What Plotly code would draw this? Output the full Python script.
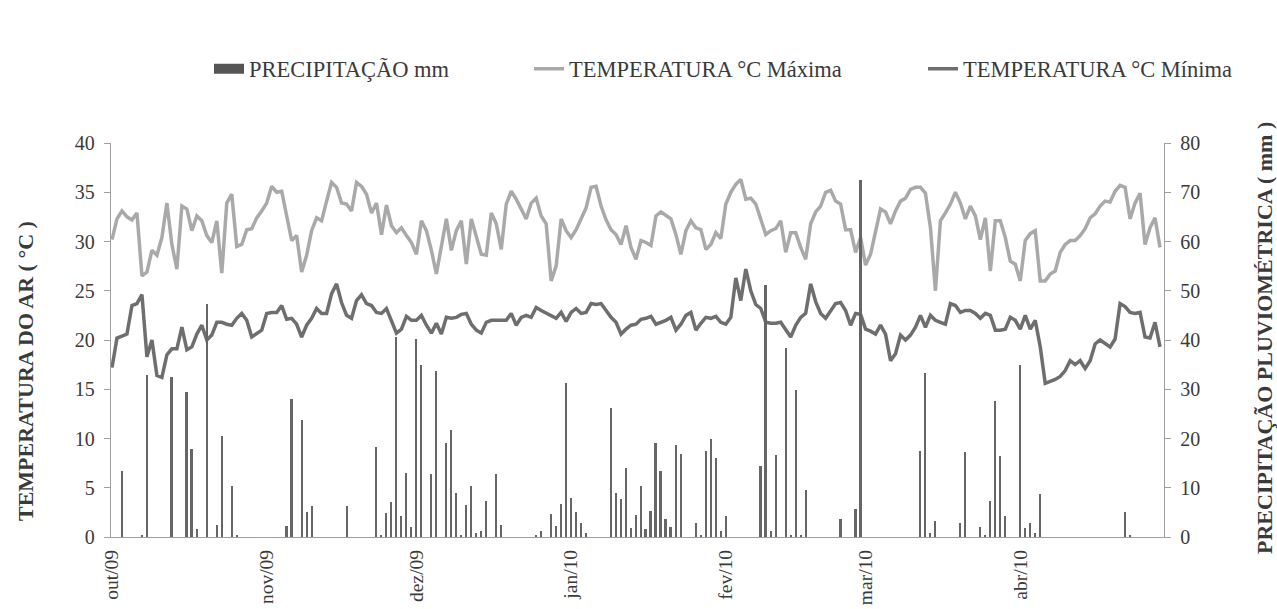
import pandas as pd
import plotly.graph_objects as go

# ---------------- data ----------------
start_date = "2009-10-01"

tmax = [30.2, 32.3, 33.1, 32.5, 32.2, 32.9, 26.5, 26.9, 29.1, 28.6,
        30.4, 33.9, 29.7, 27.2, 33.6, 33.3, 31.1, 32.6, 32.1, 30.6,
        29.9, 32.1, 26.8, 33.9, 34.8, 29.5, 29.7, 31.2, 31.3, 32.4,
        33.1, 33.9, 35.6, 35.0, 35.1, 32.4, 30.1, 30.6, 26.9, 28.6,
        31.1, 32.4, 32.1, 34.1, 36.0, 35.5, 33.9, 33.8, 33.1, 36.0,
        35.6, 34.8, 32.9, 33.9, 30.7, 33.7, 31.6, 30.9, 31.4, 30.6,
        29.9, 28.7, 32.1, 31.1, 29.1, 26.7, 29.4, 32.3, 29.1, 31.1,
        32.1, 27.7, 32.3, 30.4, 28.7, 28.6, 32.9, 31.8, 29.2, 33.8,
        35.1, 34.3, 33.3, 32.3, 33.9, 34.4, 32.6, 31.8, 26.0, 27.5,
        32.3, 31.1, 30.4, 31.2, 32.3, 33.4, 35.5, 35.6, 33.6, 32.2,
        31.2, 30.7, 29.7, 31.6, 29.4, 28.2, 30.1, 29.9, 29.6, 32.6,
        33.0, 32.7, 32.3, 30.7, 28.7, 31.1, 32.1, 31.4, 31.2, 29.2,
        29.7, 30.9, 30.3, 33.8, 35.0, 35.8, 36.3, 34.3, 34.4, 33.8,
        32.3, 30.7, 31.1, 31.3, 32.1, 28.9, 30.9, 30.9, 29.4, 28.2,
        31.8, 33.0, 33.6, 35.0, 35.2, 34.1, 33.8, 31.2, 31.2, 28.9,
        30.4, 27.6, 28.7, 31.2, 33.3, 33.0, 31.8, 33.1, 34.1, 34.4,
        35.3, 35.5, 35.5, 34.9, 31.4, 25.0, 32.1, 32.9, 33.8, 35.0,
        33.9, 32.3, 33.6, 32.6, 30.2, 32.4, 27.0, 32.1, 32.1, 30.4,
        28.0, 27.7, 26.0, 30.1, 30.8, 31.1, 26.0, 26.0, 26.7, 27.0,
        28.9, 29.7, 30.1, 30.1, 30.6, 31.3, 32.4, 32.8, 33.6, 34.1,
        34.0, 35.1, 35.7, 35.5, 32.3, 33.9, 34.9, 29.7, 31.4, 32.4,
        29.4]

tmin = [17.2, 20.2, 20.4, 20.6, 23.5, 23.7, 24.6, 18.3, 20.0, 16.4,
        16.2, 18.5, 19.1, 19.1, 21.3, 19.0, 19.3, 20.6, 21.5, 20.0,
        20.5, 21.8, 21.8, 21.6, 21.5, 22.2, 22.7, 22.0, 20.3, 20.6,
        21.0, 22.7, 22.8, 22.8, 23.5, 22.1, 22.2, 21.6, 20.3, 21.5,
        22.2, 23.2, 22.7, 22.7, 24.7, 25.7, 23.8, 22.5, 22.2, 24.0,
        24.6, 23.7, 23.5, 22.8, 22.7, 23.2, 22.0, 20.7, 21.1, 22.4,
        22.0, 22.0, 22.5, 21.5, 20.7, 21.7, 20.6, 22.3, 22.2, 22.3,
        22.6, 22.7, 21.6, 21.0, 20.7, 21.8, 22.0, 22.0, 22.0, 22.0,
        22.7, 21.5, 22.3, 22.5, 22.3, 23.3, 23.0, 22.7, 22.5, 22.2,
        22.8, 21.9, 22.8, 23.2, 22.7, 22.8, 23.7, 23.6, 23.7, 23.0,
        22.3, 21.8, 20.6, 21.1, 21.5, 21.6, 22.1, 22.2, 22.4, 21.6,
        21.8, 22.0, 22.3, 21.0, 21.6, 22.5, 22.8, 21.0, 21.7, 22.3,
        22.2, 22.4, 21.8, 21.6, 22.3, 26.3, 24.0, 27.2, 25.0, 23.6,
        23.2, 21.8, 21.7, 21.7, 21.8, 21.0, 20.3, 21.5, 22.3, 22.7,
        25.7, 23.9, 22.7, 22.2, 23.0, 23.7, 23.8, 23.0, 21.5, 22.7,
        22.6, 21.1, 20.9, 20.6, 21.5, 20.6, 17.9, 18.6, 20.5, 20.0,
        20.5, 21.3, 22.5, 21.3, 22.5, 22.0, 21.8, 21.6, 23.7, 23.5,
        22.8, 23.0, 23.0, 22.7, 22.2, 22.7, 22.5, 21.0, 21.0, 21.1,
        22.3, 22.0, 21.1, 22.5, 21.1, 22.0, 19.3, 15.6, 15.8, 16.0,
        16.3, 16.9, 17.9, 17.5, 17.9, 17.1, 17.9, 19.6, 20.0, 19.6,
        19.3, 20.1, 23.7, 23.4, 22.8, 22.7, 22.8, 20.3, 20.2, 21.8,
        19.3]

# days (offset from start_date) with rain, and amount in mm
rain_day = [2, 6, 7, 12, 15, 16, 17, 19, 21, 22, 24, 25,
            35, 36, 38, 39, 40, 47, 53, 54, 55, 56, 57, 58, 59, 60, 61,
            62, 64, 65, 67, 68, 69, 70, 71, 72, 73, 74, 75, 77, 78, 85, 86,
            88, 89, 90, 91, 92, 93, 94, 95,
            100, 101, 102, 103, 104, 105, 106, 107, 108, 109, 110, 111, 112,
            113, 114, 117, 118, 119, 120, 121, 122, 123,
            130, 131, 132, 133, 135, 136, 137, 138, 139, 146, 149, 150,
            162, 163, 164, 165, 170, 171, 174, 175, 176, 177, 178, 179,
            182, 183, 184, 185, 186, 203, 204]
rain_mm = [13.5, 0.3, 32.9, 32.5, 29.4, 17.8, 1.7, 47.3, 2.4, 20.6, 10.3, 0.3,
           2.2, 28.1, 23.8, 5.1, 6.3, 6.3, 18.2, 0.3, 4.9, 7.1, 40.6, 4.2, 12.9, 2.1, 40.3,
           34.9, 12.7, 33.7, 19.1, 21.8, 9.0, 0.3, 6.4, 10.4, 0.9, 1.3, 7.3, 12.7, 2.4, 0.3, 1.2,
           4.6, 2.2, 6.8, 31.3, 7.9, 5.1, 2.9, 0.9,
           26.1, 9.0, 7.7, 14.1, 1.9, 4.4, 10.3, 1.7, 5.3, 19.1, 13.5, 3.6, 2.1,
           18.7, 16.8, 2.8, 0.3, 17.4, 19.9, 16.0, 1.3, 4.2,
           14.5, 51.2, 1.2, 16.7, 38.4, 0.5, 29.8, 0.5, 9.6, 3.7, 5.7, 72.5,
           17.4, 33.2, 0.9, 3.2, 2.8, 17.2, 2.0, 0.5, 7.4, 27.6, 16.4, 4.2,
           34.9, 1.9, 2.8, 0.9, 8.8, 5.1, 0.3]

month_ticks = ["2009-10-01", "2009-11-01", "2009-12-01", "2010-01-01",
               "2010-02-01", "2010-03-01", "2010-04-01"]
month_labels = ["out/09", "nov/09", "dez/09", "jan/10", "fev/10", "mar/10", "abr/10"]

name_rain = "PRECIPITAÇÃO mm"
name_max = "TEMPERATURA °C Máxima"
name_min = "TEMPERATURA °C Mínima"
title_left = "TEMPERATURA DO AR ( °C )"
title_right = "PRECIPITAÇÃO PLUVIOMÉTRICA ( mm )"

# ---------------- figure ----------------
dates = pd.date_range(start_date, periods=len(tmax), freq="D")
rain_dates = dates[rain_day]

FONT = "Liberation Serif"
TXT = "#3a3a3a"
AXC = "#a0a0a0"
C_BAR = "#666666"
C_MAX = "#a9a9a9"
C_MIN = "#6e6e6e"

fig = go.Figure()

fig.add_trace(go.Scatter(x=dates, y=tmax, mode="lines", name=name_max,
                         line=dict(color=C_MAX, width=3.5), legend="legend2"))
fig.add_trace(go.Scatter(x=dates, y=tmin, mode="lines", name=name_min,
                         line=dict(color=C_MIN, width=3.5), legend="legend3"))
fig.add_trace(go.Bar(x=rain_dates, y=rain_mm, yaxis="y2", name=name_rain,
                     marker=dict(color=C_BAR, line=dict(width=0)),
                     width=0.4 * 86400000, showlegend=False))
# legend proxy for precipitation (wide swatch, no data drawn)
fig.add_trace(go.Scatter(x=[None], y=[None], mode="lines", name=name_rain,
                         line=dict(color="#555555", width=10), legend="legend"))

W, H = 1277, 609
ml, mr, mt, mb = 111, 113, 143, 72
pw = W - ml - mr
ph = H - mt - mb


def px_x(p):
    return (p - ml) / pw


def px_y(p):
    return (H - mb - p) / ph


leg_common = dict(orientation="h", xanchor="left", yanchor="middle",
                  bgcolor="rgba(0,0,0,0)",
                  font=dict(family=FONT, size=22.5, color=TXT))

fig.update_layout(
    width=W, height=H,
    margin=dict(l=ml, r=mr, t=mt, b=mb, autoexpand=False),
    paper_bgcolor="white", plot_bgcolor="white",
    font=dict(family=FONT, color=TXT),
    bargap=0,
    legend=dict(x=px_x(209), y=px_y(69), **leg_common),
    legend2=dict(x=px_x(529), y=px_y(69), **leg_common),
    legend3=dict(x=px_x(923), y=px_y(69), **leg_common),
    xaxis=dict(
        type="date", automargin=False,
        range=["2009-09-30 19:12", "2010-04-29 19:12"],
        tickvals=month_ticks, ticktext=month_labels,
        tickangle=-90, tickfont=dict(family=FONT, size=19.5, color=TXT),
        ticklabelstandoff=4,
        showline=True, linecolor=AXC, linewidth=1.3,
        showgrid=False, zeroline=False, ticks="",
    ),
    yaxis=dict(
        range=[0, 40], dtick=5, tick0=0, automargin=False,
        tickfont=dict(family=FONT, size=20, color=TXT),
        ticklabelstandoff=5,
        showline=True, linecolor=AXC, linewidth=1.3,
        ticks="outside", ticklen=6, tickcolor=AXC, tickwidth=1.3,
        showgrid=False, zeroline=False,
    ),
    yaxis2=dict(
        range=[0, 80], dtick=10, tick0=0, overlaying="y", side="right",
        automargin=False,
        tickfont=dict(family=FONT, size=20, color=TXT),
        ticklabelstandoff=5,
        showline=True, linecolor=AXC, linewidth=1.3,
        ticks="outside", ticklen=6, tickcolor=AXC, tickwidth=1.3,
        showgrid=False, zeroline=False,
    ),
    annotations=[
        dict(text="<b>" + title_left + "</b>", textangle=-90,
             x=px_x(25), y=px_y(371), xref="paper", yref="paper",
             showarrow=False, xanchor="center", yanchor="middle",
             font=dict(family=FONT, size=22, color=TXT)),
        dict(text="<b>" + title_right + "</b>", textangle=-90,
             x=px_x(1264), y=px_y(338), xref="paper", yref="paper",
             showarrow=False, xanchor="center", yanchor="middle",
             font=dict(family=FONT, size=22, color=TXT)),
    ],
)

fig.write_html("out.html",
               config={"displayModeBar": False},
               post_script="document.body.style.margin='0';document.body.style.padding='0';")
